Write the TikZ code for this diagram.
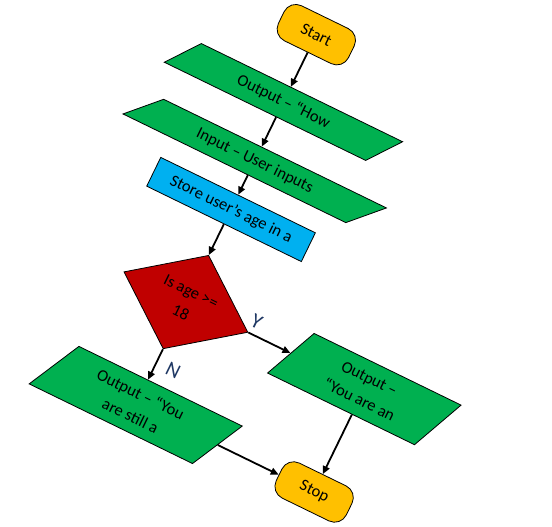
\documentclass[tikz,border=0pt]{standalone}
\usepackage{fontspec}
\setmainfont{Carlito}
\usepackage{tikz}
\usetikzlibrary{shapes.geometric,arrows.meta}
\definecolor{termfill}{HTML}{FFC000}
\definecolor{iofill}{HTML}{00B050}
\definecolor{procfill}{HTML}{00B0F0}
\definecolor{decfill}{HTML}{C00000}
\definecolor{lbl}{HTML}{1F3864}

\begin{document}
\begin{tikzpicture}[x=1pt, y=1pt,
  term/.style={rectangle, rounded corners=13pt, draw=black, line width=0.8pt, fill=termfill, minimum width=78pt, minimum height=39pt, font=\fontsize{16.5}{23.5}\selectfont},
  io/.style={trapezium, trapezium stretches body=true, draw=black, line width=0.8pt, fill=iofill, inner sep=1pt, align=center, font=\fontsize{16.5}{23.5}\selectfont},
  proc/.style={rectangle, draw=black, line width=0.8pt, fill=procfill, minimum width=172pt, minimum height=32pt, font=\fontsize{16.5}{23.5}\selectfont},
  dec/.style={diamond, aspect=1.33, inner sep=0pt, draw=black, line width=0.8pt, fill=decfill, minimum width=138pt, minimum height=104pt, align=center, font=\fontsize{16.5}{23.5}\selectfont},
  yn/.style={text=lbl, font=\fontsize{21}{24}\selectfont},
  arrow/.style={-{Triangle[length=8pt, width=7pt]}, line width=1.8pt, black},
]
  \useasboundingbox (0,0) rectangle (552,-527);
  \begin{scope}[rotate=-26, transform shape]
  \node[term] (start) at (299.5,107.5) {Start};
  \node[io, trapezium left angle=33.5, trapezium right angle=146.5, minimum width=249pt, minimum height=33pt] (howout) at (299.5,32.6) {Output -- “How};
  \node[io, trapezium left angle=28, trapezium right angle=152, minimum width=278pt, minimum height=31pt] (agein) at (299.5,-33) {Input -- User inputs};
  \node[proc] (store) at (299.5,-87) {Store user’s age in a};
  \node[dec] (check) at (299.5,-190) {Is age >=\\18};
  \node[io, trapezium left angle=53, trapezium right angle=127, minimum width=210pt, minimum height=55.5pt] (minorout) at (299.5,-304.5) {Output -- “You\\are still a};
  \node[io, trapezium left angle=56, trapezium right angle=124, minimum width=188pt, minimum height=56pt] (adultout) at (498,-190) {Output --\\“You are an};
  \node[term] (stop) at (498,-304.5) {Stop};
  \node[yn] (yes) at (372,-177) {Y};
  \node[yn] (no) at (318,-257) {N};
  \draw[arrow] (start) -- (howout);
  \draw[arrow] (howout) -- (agein);
  \draw[arrow] (agein) -- (store);
  \draw[arrow] (store) -- (check);
  \draw[arrow] (check) -- (minorout);
  \draw[arrow] (check) -- (adultout);
  \draw[arrow] (adultout) -- (stop);
  \draw[arrow] (minorout) -- (stop);
  \end{scope}
\end{tikzpicture}
\end{document}
